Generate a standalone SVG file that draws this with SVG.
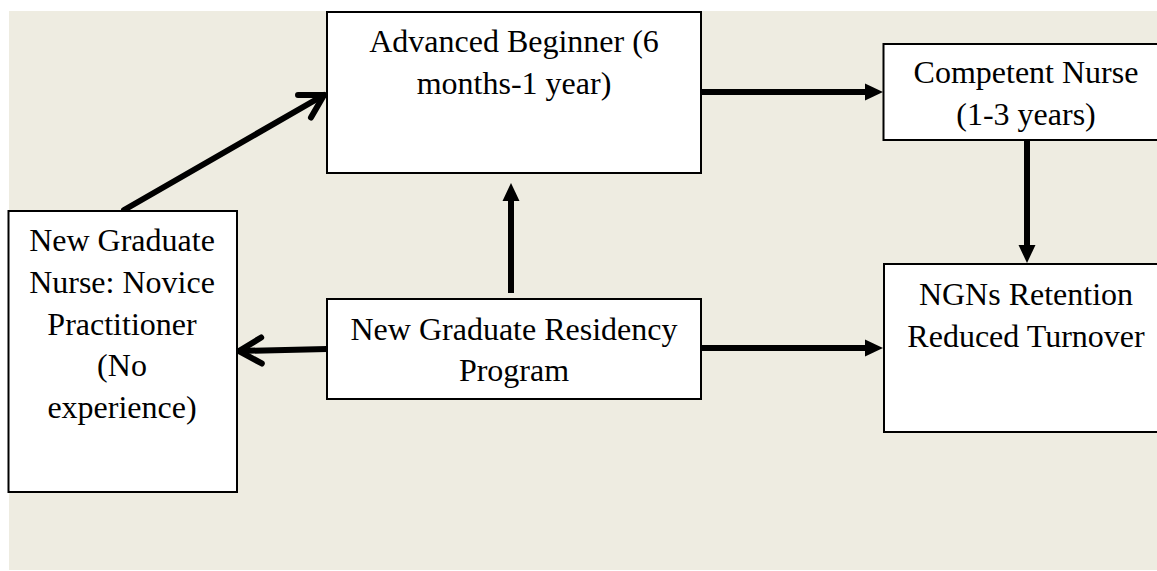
<svg xmlns="http://www.w3.org/2000/svg" width="1157" height="571" viewBox="0 0 1157 571">
<style>
.box{fill:#ffffff;stroke:#000000;stroke-width:2}
.lbl{font-size:32px;fill:#000000;text-anchor:middle}
.conn{stroke:#000000;stroke-width:6;fill:none}
</style>
<defs>
<marker id="solid" markerUnits="userSpaceOnUse" markerWidth="20" markerHeight="20" refX="1" refY="10" orient="auto">
<path d="M0,1.5 L18,10 L0,18.5 Z" fill="#000000"/>
</marker>
<marker id="open" markerUnits="userSpaceOnUse" markerWidth="40" markerHeight="40" refX="30" refY="20" orient="auto">
<path d="M7.5,7 L30,20 L7.5,33" fill="none" stroke="#000000" stroke-width="6" stroke-linecap="round" stroke-linejoin="round"/>
</marker>
</defs>
<rect x="9" y="11" width="1148" height="559" fill="#EEECE1"/>
<g id="connectors">
<line class="conn" x1="124" y1="210" x2="324" y2="95" stroke-linecap="round" marker-end="url(#open)"/>
<line class="conn" x1="327" y1="349" x2="239" y2="351" stroke-linecap="round" marker-end="url(#open)"/>
<line class="conn" x1="511" y1="293" x2="511" y2="200" marker-end="url(#solid)"/>
<line class="conn" x1="701" y1="92" x2="866" y2="92" marker-end="url(#solid)"/>
<line class="conn" x1="1027" y1="140" x2="1027" y2="246" marker-end="url(#solid)"/>
<line class="conn" x1="701" y1="348" x2="866" y2="348" marker-end="url(#solid)"/>
</g>
<g font-family="Liberation Serif, Tinos, Times New Roman, DejaVu Serif, serif">
<g id="advanced-beginner">
<rect class="box" x="327" y="12" width="374" height="161"/>
<text class="lbl" x="514" y="52">Advanced Beginner (6</text>
<text class="lbl" x="514" y="94">months-1 year)</text>
</g>
<g id="competent-nurse">
<rect class="box" x="883.5" y="44" width="300" height="96"/>
<text class="lbl" x="1026" y="83">Competent Nurse</text>
<text class="lbl" x="1026" y="125">(1-3 years)</text>
</g>
<g id="new-graduate-nurse">
<rect class="box" x="8.5" y="211" width="228.5" height="281"/>
<text class="lbl" x="122" y="251">New Graduate</text>
<text class="lbl" x="122" y="293">Nurse: Novice</text>
<text class="lbl" x="122" y="334.5">Practitioner</text>
<text class="lbl" x="122" y="376">(No</text>
<text class="lbl" x="122" y="418">experience)</text>
</g>
<g id="residency-program">
<rect class="box" x="327" y="299" width="374" height="100"/>
<text class="lbl" x="514" y="340">New Graduate Residency</text>
<text class="lbl" x="514" y="381">Program</text>
</g>
<g id="retention">
<rect class="box" x="884" y="264" width="300" height="168"/>
<text class="lbl" x="1026" y="305">NGNs Retention</text>
<text class="lbl" x="1026" y="347">Reduced Turnover</text>
</g>
</g>
</svg>
